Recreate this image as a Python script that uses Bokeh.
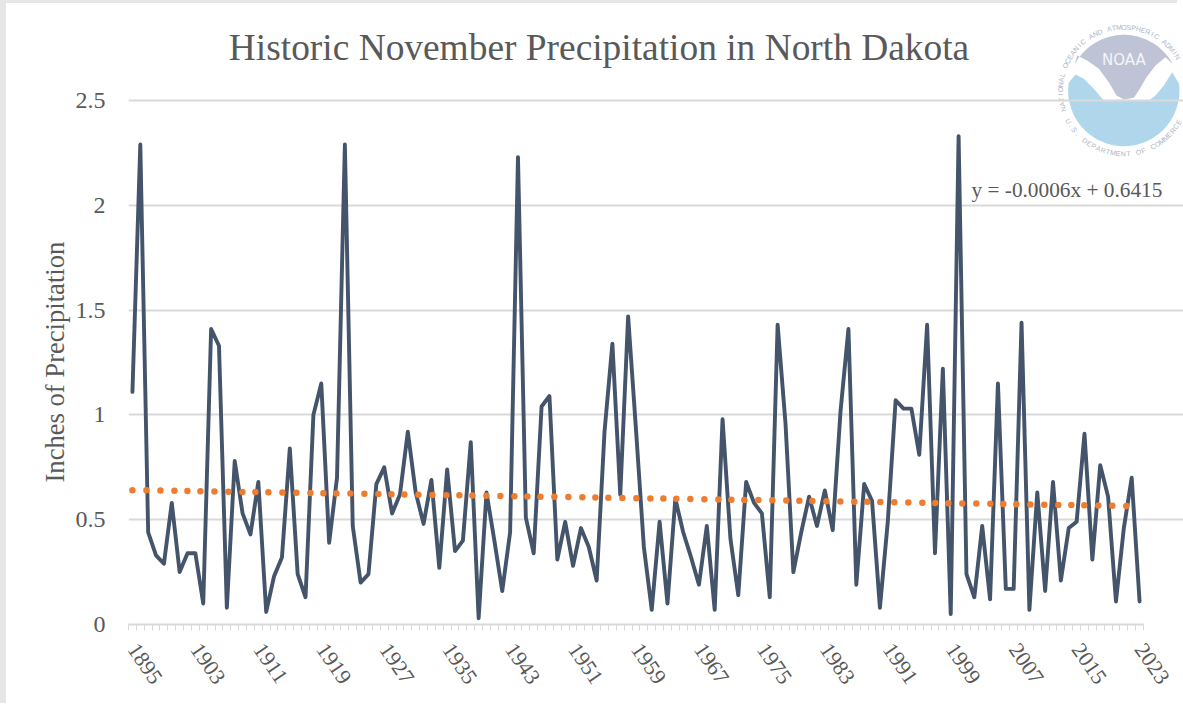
import numpy as np
from bokeh.plotting import figure
from bokeh.models import FixedTicker, Range1d, Label, PolyAnnotation, Title
from bokeh.embed import file_html
from bokeh.resources import INLINE

years = list(range(1895, 2024))
precip = [1.11,2.29,0.44,0.33,0.29,0.58,0.25,0.34,0.34,0.10,1.41,1.33,0.08,0.78,0.53,0.43,0.68,0.06,0.23,0.32,
          0.84,0.24,0.13,1.00,1.15,0.39,0.70,2.29,0.47,0.20,0.24,0.67,0.75,0.53,0.62,0.92,0.63,0.48,0.69,0.27,
          0.74,0.35,0.40,0.87,0.03,0.63,0.40,0.16,0.44,2.23,0.51,0.34,1.04,1.09,0.31,0.49,0.28,0.46,0.37,0.21,
          0.92,1.34,0.62,1.47,0.93,0.37,0.07,0.49,0.10,0.60,0.44,0.32,0.19,0.47,0.07,0.98,0.41,0.14,0.68,0.58,
          0.53,0.13,1.43,0.96,0.25,0.44,0.61,0.47,0.64,0.45,1.02,1.41,0.19,0.67,0.59,0.08,0.49,1.07,1.03,1.03,
          0.81,1.43,0.34,1.22,0.05,2.33,0.24,0.13,0.47,0.12,1.15,0.17,0.17,1.44,0.07,0.63,0.16,0.68,0.21,0.46,
          0.49,0.91,0.31,0.76,0.61,0.11,0.46,0.70,0.11]
trend_years = [1895, 2022]
trend_values = [0.641, 0.565]
x_tick_years = list(range(1895, 2024, 8))
y_ticks = [0, 0.5, 1, 1.5, 2, 2.5]
y_tick_labels = ["0", "0.5", "1", "1.5", "2", "2.5"]
title_text = "Historic November Precipitation in North Dakota"
y_label = "Inches of Precipitation"
equation = "y = -0.0006x + 0.6415"

FONT = "Liberation Serif"
TXT = "#595959"
GRID = "#D9D9D9"
PAGE_L, PAGE_T = 6, 3          # grey strips of the page
L, R, T, B = 128.0, 1143.0, 100.0, 624.0   # plot area in page pixels
x0, x1 = years[0] - 0.5, years[-1] + 0.5
px_per_x = (R - L) / (x1 - x0)
px_per_y = (B - T) / 2.5

p = figure(width=1183 - PAGE_L, height=706 - PAGE_T, output_backend="svg", toolbar_location=None,
           x_range=Range1d(x0, x1 + (1183 - R) / px_per_x),
           y_range=Range1d(0, (B - PAGE_T) / px_per_y),
           min_border_left=int(L - PAGE_L), min_border_right=0, min_border_top=0, min_border_bottom=int(706 - B),
           outline_line_color=None, background_fill_color="white", border_fill_color="white")
p.styles = {"position": "absolute", "left": f"{PAGE_L}px", "top": f"{PAGE_T}px",
            "box-shadow": f"-{PAGE_L}px -{PAGE_T}px 0 0 #E6E6E6"}

def dx(px):
    return x0 + (np.asarray(px, dtype=float) - L) / px_per_x
def dy(py):
    return (B - np.asarray(py, dtype=float)) / px_per_y

# NOAA logo (zoom coordinates -> page pixels)
def zx(z): return 1040 + np.asarray(z, dtype=float) / 3
def zy(z): return np.asarray(z, dtype=float) / 3
cz = (250.0, 270.0); rz = 167.0
def arc(a0, a1, n=40):
    a = np.radians(np.linspace(a0, a1, n))
    return list(cz[0] + rz * np.cos(a)), list(cz[1] - rz * np.sin(a))
ax, ay = arc(152, 28)
gx = ax + [375, 345, 318, 295, 280, 250, 228, 205, 175, 140, 110]
gy = ay + [170, 195, 230, 270, 292, 297, 285, 245, 205, 180, 165]
ax2, ay2 = arc(172, 367, 60)
bx = ax2 + [395, 370, 345, 325, 300, 262, 235, 210, 235, 290, 328, 260, 225, 190, 160, 130, 105]
by = ay2 + [215, 255, 285, 300, 305, 308, 322, 335, 337, 322, 300, 298, 298, 300, 265, 235, 222]
p.add_layout(PolyAnnotation(xs=list(dx(zx(gx))), ys=list(dy(zy(gy))), fill_color="#BEC4D6", fill_alpha=1,
                            line_color=None, level="image"))
p.add_layout(PolyAnnotation(xs=list(dx(zx(bx))), ys=list(dy(zy(by))), fill_color="#B0D6EC", fill_alpha=1,
                            line_color=None, level="image"))
p.add_layout(Label(x=float(dx(zx(250))), y=float(dy(zy(205))), text="NOAA", text_color="#F4F5F8",
                   text_font="DejaVu Sans", text_font_size="15px", text_align="center",
                   text_baseline="bottom", level="image"))
def ring(text, a0, a1, top=True):
    ang = np.linspace(a0, a1, len(text))
    Rz = 190.0
    for ch, a in zip(text, ang):
        if ch == " ":
            continue
        r = np.radians(a)
        x = cz[0] + Rz * np.cos(r)
        y = cz[1] - Rz * np.sin(r)
        rot = r - np.pi / 2 if top else r + np.pi / 2
        p.add_layout(Label(x=float(dx(zx(x))), y=float(dy(zy(y))), text=ch, angle=float(rot), text_color="#AEB4C6",
                           text_font="Liberation Sans", text_font_size="7px", text_align="center",
                           text_baseline="middle", level="image"))
ring("NATIONAL OCEANIC AND ATMOSPHERIC ADMIN", 197, 32)
ring("U.S. DEPARTMENT OF COMMERCE", 209, 330, top=False)

# axes and grid
p.ygrid.ticker = FixedTicker(ticks=y_ticks)
p.ygrid.grid_line_color = GRID
p.ygrid.grid_line_width = 1.8
p.ygrid.bounds = (x0, x1)
p.xgrid.visible = False

ya = p.yaxis[0]
ya.ticker = FixedTicker(ticks=y_ticks)
ya.bounds = (0, 2.5)
ya.major_label_overrides = dict(zip(y_ticks, y_tick_labels))
ya.axis_line_color = None
ya.major_tick_line_color = None
ya.minor_tick_line_color = None
ya.major_label_text_font = FONT
ya.major_label_text_font_size = "24px"
ya.major_label_text_color = TXT
ya.major_label_standoff = 17

# y axis title: a side title, so it can sit centred on the 0-2.5 span of the plot
p.add_layout(Title(text=y_label, align="left", offset=B - 482, standoff=6, text_font=FONT,
                   text_font_style="normal", text_font_size="26.6px", text_color=TXT), "left")

edges = [y - 0.5 for y in years] + [years[-1] + 0.5]
xa = p.xaxis[0]
xa.ticker = FixedTicker(ticks=x_tick_years, minor_ticks=edges)
xa.bounds = (x0, x1)
xa.major_label_overrides = {y: str(y) for y in x_tick_years}
xa.axis_line_color = GRID
xa.axis_line_width = 1.8
xa.major_tick_line_color = None
xa.minor_tick_line_color = GRID
xa.minor_tick_out = 6
xa.minor_tick_in = 0
xa.major_label_orientation = -0.97
xa.major_label_text_font = FONT
xa.major_label_text_font_size = "22px"
xa.major_label_text_color = TXT
xa.major_label_standoff = 15

p.add_layout(Label(x=float(dx(598.5)), y=float(dy(47)), text=title_text, text_font=FONT, text_font_size="37.4px",
                   text_color=TXT, text_align="center", text_baseline="alphabetic"))

p.line(years, precip, line_color="#44546A", line_width=3.9, line_join="round", line_cap="round")
p.line(trend_years, trend_values, line_color="#ED7D31", line_width=6.5, line_cap="round",
       line_dash="0 14 0 14 0 14 0 13 0 13")

p.add_layout(Label(x=float(dx(971)), y=float(dy(189)), text=equation, text_font=FONT, text_font_size="21.3px",
                   text_color=TXT, text_align="left", text_baseline="alphabetic"))

open("out.html", "w").write(file_html(p, INLINE))
